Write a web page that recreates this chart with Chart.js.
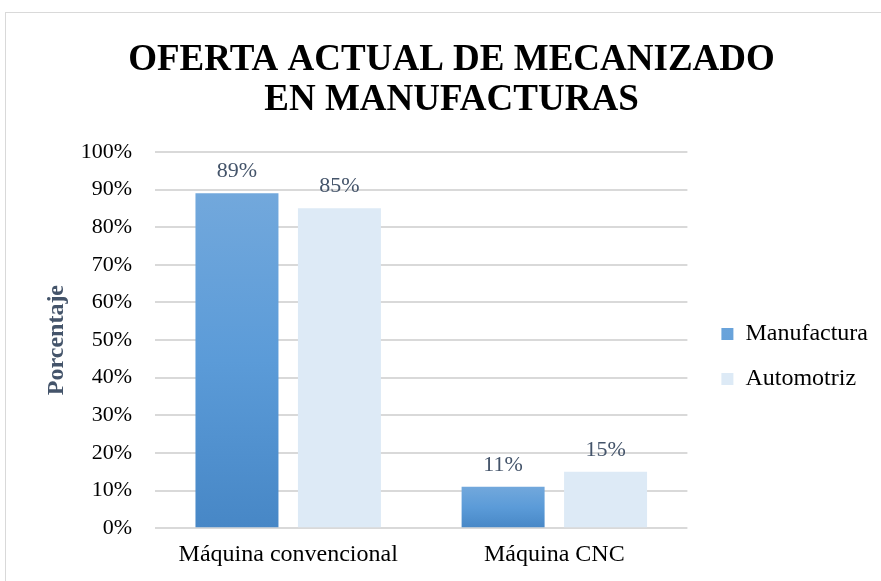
<!DOCTYPE html>
<html>
<head>
<meta charset="utf-8">
<script src="https://cdn.jsdelivr.net/npm/chart.js@4.4.1/dist/chart.umd.min.js"></script>
<style>
  body { margin: 0; background: #fff; }
  #frame { position: absolute; left: 5px; top: 12px; width: 900px; height: 600px; border: 1px solid #D9D9D9; }
  #wrap { position: absolute; left: 0; top: 0; width: 881px; height: 581px; }
</style>
</head>
<body>
<div id="frame"></div>
<div id="wrap"><canvas id="oferta-chart"></canvas></div>
<script>
var categorias = ['Máquina convencional', 'Máquina CNC'];
var manufactura = [89, 11];
var automotriz = [85, 15];
var yTicks = [0, 10, 20, 30, 40, 50, 60, 70, 80, 90, 100];

var serif = "'Liberation Serif', 'Times New Roman', serif";
var LEGEND_GAP = 16;   // hueco entre el area del grafico y la leyenda
var LEGEND_DX = 13;
var LEGEND_DY = 70;    // la leyenda va algo mas abajo que el centro

// degradado azul de cada barra (claro arriba, oscuro abajo)
function barGradient(ctx) {
    var chart = ctx.chart;
    if (ctx.type !== 'data' || !chart.chartArea || !chart.scales.y) return '#5B9BD5';
    var y = chart.scales.y;
    var top = y.getPixelForValue(ctx.raw);
    var base = y.getPixelForValue(0);
    var g = chart.ctx.createLinearGradient(0, top, 0, base);
    g.addColorStop(0, '#72A8DC');
    g.addColorStop(0.5, '#5B9BD8');
    g.addColorStop(1, '#4787C6');
    return g;
}

// etiquetas de datos encima de las barras
var etiquetas = {
    id: 'etiquetas',
    afterDatasetsDraw: function(chart) {
        var ctx = chart.ctx;
        ctx.save();
        ctx.font = '22px ' + serif;
        ctx.fillStyle = '#44546A';
        ctx.textAlign = 'center';
        ctx.textBaseline = 'alphabetic';
        chart.data.datasets.forEach(function(ds, i) {
            chart.getDatasetMeta(i).data.forEach(function(bar, j) {
                ctx.fillText(ds.data[j] + '%', bar.x, bar.y - 16);
            });
        });
        ctx.restore();
    }
};

// separa la leyenda del area de trazado y la baja un poco
var leyendaPos = {
    id: 'leyendaPos',
    beforeInit: function(chart) {
        var lg = chart.legend;
        if (!lg) return;
        var fit = lg.fit, draw = lg.draw;
        lg.fit = function() {
            fit.apply(this, arguments);
            this.width += LEGEND_GAP;
        };
        lg.draw = function() {
            var c = this.ctx;
            c.save();
            c.translate(LEGEND_DX, LEGEND_DY);
            draw.apply(this, arguments);
            c.restore();
        };
    }
};

var chartdata = {
    labels: categorias,
    datasets: [
        {
            label: 'Manufactura',
            data: manufactura,
            backgroundColor: barGradient,
            categoryPercentage: 0.77,
            barPercentage: 0.81
        },
        {
            label: 'Automotriz',
            data: automotriz,
            backgroundColor: '#DDEAF6',
            categoryPercentage: 0.77,
            barPercentage: 0.81
        }
    ]
};

var myBarChart = new Chart(document.getElementById('oferta-chart'), {
    type: 'bar',
    data: chartdata,
    plugins: [etiquetas, leyendaPos],
    options: {
        responsive: true,
        maintainAspectRatio: false,
        animation: false,
        layout: { padding: { left: 22, right: 0, top: 0, bottom: 8 } },
        plugins: {
            title: {
                display: true,
                text: ['OFERTA ACTUAL DE MECANIZADO', 'EN MANUFACTURAS'],
                color: '#000',
                font: { family: serif, size: 37, weight: 'bold', lineHeight: 1.08 },
                padding: { top: 40, bottom: 32 }
            },
            legend: {
                position: 'right',
                labels: {
                    color: '#000',
                    font: { family: serif, size: 24 },
                    boxWidth: 12,
                    boxHeight: 12,
                    padding: 21
                }
            },
            tooltip: { enabled: false }
        },
        scales: {
            x: {
                grid: { display: false },
                border: { display: false },
                ticks: { color: '#000', font: { family: serif, size: 24 }, padding: 4 }
            },
            y: {
                min: 0,
                max: 100,
                afterBuildTicks: function(axis) {
                    axis.ticks = yTicks.map(function(v) { return { value: v }; });
                },
                afterFit: function(scale) {
                    scale.width -= 22;
                },
                grid: { color: '#D9D9D9', lineWidth: 2, drawTicks: false },
                border: { display: false },
                ticks: {
                    color: '#000',
                    font: { family: serif, size: 22 },
                    padding: 23,
                    callback: function(v) { return v + '%'; }
                },
                title: {
                    display: true,
                    text: 'Porcentaje',
                    color: '#44546A',
                    font: { family: serif, size: 24, weight: 'bold' },
                    padding: { top: 20, bottom: 9 }
                }
            }
        }
    }
});
</script>
</body>
</html>
